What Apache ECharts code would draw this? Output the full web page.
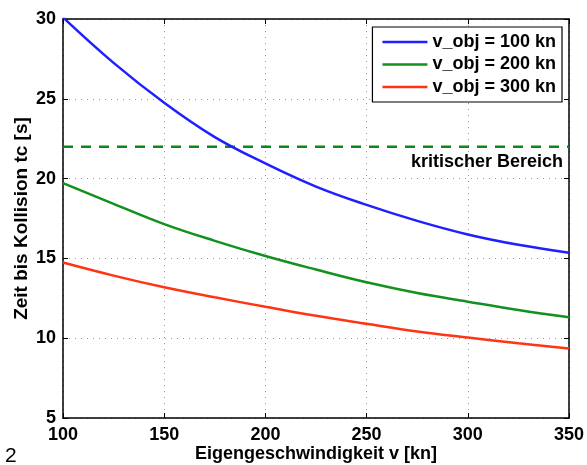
<!DOCTYPE html>
<html><head><meta charset="utf-8">
<script src="https://cdn.jsdelivr.net/npm/echarts@6/dist/echarts.min.js"></script>
<style>html,body{margin:0;padding:0;background:#fff}#c{width:587px;height:465px}</style>
</head><body><div id="c"></div>
<script>
const speeds = [100,125,150,175,200,225,250,275,300,325,350];
const tc100 = [30.1,27.25,24.75,22.6,20.95,19.5,18.35,17.35,16.5,15.85,15.35];
const tc200 = [19.72,18.42,17.15,16.1,15.15,14.3,13.5,12.83,12.29,11.77,11.31];
const tc300 = [14.74,13.92,13.19,12.56,11.97,11.4,10.9,10.42,10.04,9.68,9.36];
const critical = 22;
const seriesNames = ['v_obj = 100 kn','v_obj = 200 kn','v_obj = 300 kn'];
const xTicks = [100,150,200,250,300,350];
const yTicks = [5,10,15,20,25,30];

const F = 'Liberation Sans, Arial, Helvetica, sans-serif';
const chart = echarts.init(document.getElementById('c'), null, {renderer:'canvas'});
const pair = arr => speeds.map((v,i)=>[v,arr[i]]);
const colors = ['#1f1fff','#14901e','#ff3414'];
const lineSeries = [tc100,tc200,tc300].map((arr,i)=>({
  name: seriesNames[i], type:'line', data: pair(arr), smooth:0.4, symbol:'none', clip:true,
  lineStyle:{color:colors[i], width:2.5}, itemStyle:{color:colors[i]}, z:3
}));
const axisCommon = {
  axisLine:{show:true, onZero:false, lineStyle:{color:'#000', width:1.5}},
  axisTick:{show:true, inside:true, length:5, lineStyle:{color:'#000', width:1}},
};
chart.setOption({
  animation:false,
  grid:{left:63, right:18, top:19, bottom:47, containLabel:false, outerBoundsMode:'none'},
  legend:{
    data: seriesNames, orient:'vertical', right:25, top:27,
    backgroundColor:'#fff', borderColor:'#000', borderWidth:1.2,
    padding:[6,6,6,10], itemGap:4.5, itemWidth:45, itemHeight:2.5, icon:'rect',
    textStyle:{fontFamily:F, fontWeight:'bold', fontSize:18, color:'#000'}
  },
  xAxis:[
    Object.assign({type:'value', min:xTicks[0], max:xTicks[xTicks.length-1], interval:50,
      name:'Eigengeschwindigkeit v [kn]', nameLocation:'middle', nameGap:27, nameMoveOverlap:false,
      nameTextStyle:{fontFamily:F, fontWeight:'bold', fontSize:18, color:'#000'},
      axisLabel:{fontFamily:F, fontWeight:'bold', fontSize:18, color:'#000', margin:8},
      splitLine:{show:true, lineStyle:{color:'#999', type:[1,5], width:1}}}, axisCommon),
    Object.assign({type:'value', position:'top', min:xTicks[0], max:xTicks[xTicks.length-1], interval:50,
      axisLabel:{show:false}, splitLine:{show:false}}, axisCommon)
  ],
  yAxis:[
    Object.assign({type:'value', min:yTicks[0], max:yTicks[yTicks.length-1], interval:5,
      name:'Zeit bis Kollision tc [s]', nameLocation:'middle', nameGap:32, nameMoveOverlap:false,
      nameTextStyle:{fontFamily:F, fontWeight:'bold', fontSize:19, color:'#000'},
      axisLabel:{fontFamily:F, fontWeight:'bold', fontSize:18, color:'#000', margin:7},
      splitLine:{show:true, lineStyle:{color:'#999', type:[1,5], width:1}}}, axisCommon),
    Object.assign({type:'value', position:'right', min:yTicks[0], max:yTicks[yTicks.length-1], interval:5,
      axisLabel:{show:false}, splitLine:{show:false}}, axisCommon)
  ],
  series: lineSeries.concat([{
    name:'kritisch', type:'line', data:[[speeds[0],critical],[speeds[speeds.length-1],critical]],
    symbol:'none', lineStyle:{color:'#0a8a1a', width:2.5, type:[10,8]}, z:2
  }]),
  graphic:[
    {type:'text', right:24, top:153, style:{text:'kritischer Bereich', fontFamily:F, fontWeight:'bold', fontSize:18, fill:'#000'}},
    {type:'text', left:5, top:446, style:{text:'2', fontFamily:F, fontSize:21, fill:'#000'}}
  ]
});
</script></body></html>
